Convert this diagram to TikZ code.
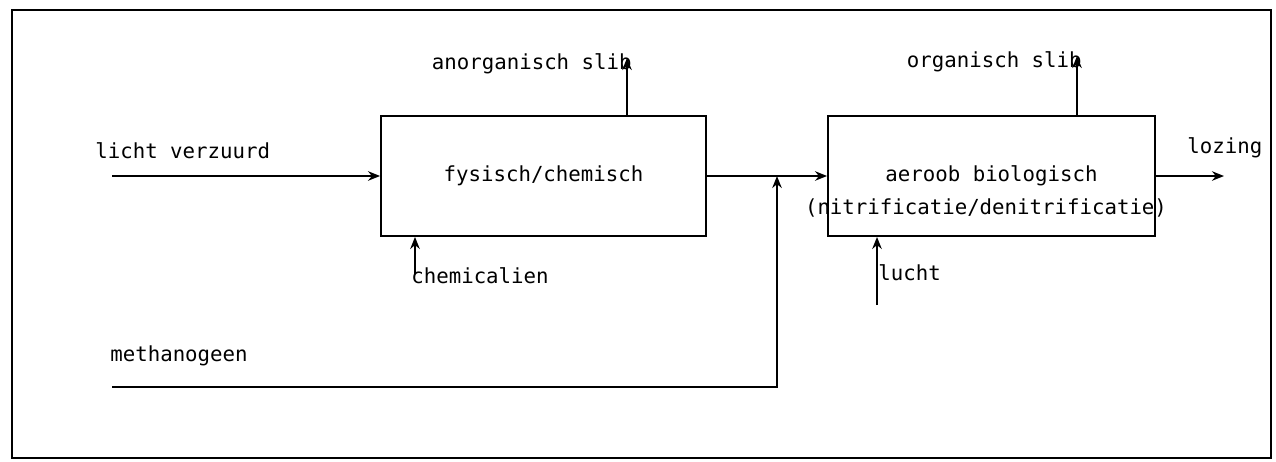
\documentclass[tikz,border=0pt]{standalone}
\usepackage{fontspec}
\newfontfamily\plotfont{DejaVu Sans Mono}
\usepackage{tikz}
\usetikzlibrary{positioning,arrows.meta,calc}
\usepackage{xcolor}

\begin{document}
\begin{tikzpicture}[x=0.02cm,y=-0.02cm,>={Stealth[length=2.4mm,width=1.9mm]},
  every node/.style={font=\plotfont\fontsize{11.8}{14}\selectfont,inner sep=0pt},
  unit/.style={draw,line width=1.1pt,minimum width=6.5cm,minimum height=2.4cm},
  flow/.style={->,line width=1.1pt}]
\useasboundingbox (0,0) rectangle (1276,461);
\draw[line width=1.4pt] (12,10) rectangle (1271,458);
% process units
\node[unit] (phys) at (543.5,176) {fysisch/chemisch};
\node[unit,minimum width=6.54cm] (bio) at (991.5,176) {aeroob biologisch};
\node (bionote) at (986,208) {(nitrificatie/denitrificatie)};
% streams
\coordinate (influent) at (112,176);
\coordinate (methstart) at (112,387);
\coordinate (join) at (777,176);
\coordinate (anorgtop) at (627,58);
\coordinate (orgtop) at (1077,56);
\coordinate (chembot) at (415,274);
\coordinate (luchtbot) at (877,305);
\coordinate (effluent) at (1224,176);
\node[anchor=west] (licht) at (95,151) {licht verzuurd};
\node[anchor=west] (meth) at (110,356) {methanogeen};
\node[anchor=east] (anorg) at (632,64) {anorganisch slib};
\node[anchor=east] (org) at (1082,62) {organisch slib};
\node[anchor=west] (chem) at (411,276) {chemicalien};
\node[anchor=west] (lucht) at (878,273) {lucht};
\node[anchor=west] (lozing) at (1187,148) {lozing};
\draw[flow] (influent) -- (phys);
\draw[flow] (phys) -- (bio);
\draw[flow] (methstart) -| (join);
\draw[flow] (anorgtop |- phys.north) -- (anorgtop);
\draw[flow] (chembot) -- (chembot |- phys.south);
\draw[flow] (orgtop |- bio.north) -- (orgtop);
\draw[flow] (luchtbot) -- (luchtbot |- bio.south);
\draw[flow] (bio) -- (effluent);
\end{tikzpicture}
\end{document}
